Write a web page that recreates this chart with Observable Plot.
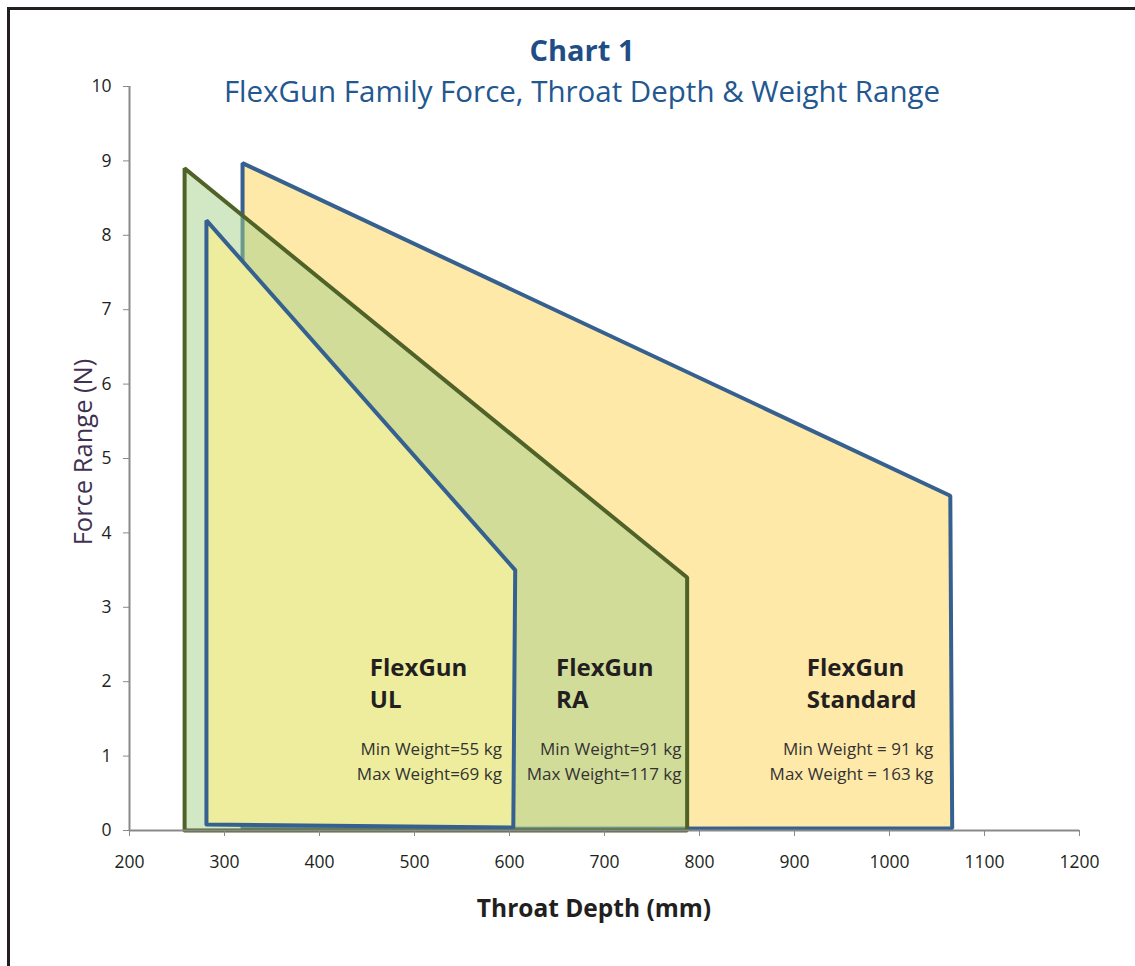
<!DOCTYPE html>
<html>
<head>
<meta charset="utf-8">
<script src="https://cdn.jsdelivr.net/npm/d3@7"></script>
<script src="https://cdn.jsdelivr.net/npm/@observablehq/plot@0.6"></script>
<style>
  html, body { margin: 0; padding: 0; background: #fff; overflow: hidden; width: 1135px; height: 966px; }
  #wrap { position: relative; width: 1135px; height: 966px; font-family: "Open Sans", sans-serif; }
  #frame { position: absolute; left: 7px; top: 7px; width: 1300px; height: 1100px; border: 3px solid #231f20; box-sizing: border-box; }
  #chart { position: absolute; left: 0; top: 0; }
  .ttl { position: absolute; left: 0; width: 1164px; text-align: center; color: #1f4e86; white-space: nowrap; line-height: 1; }
  #t1 { top: 35px; font-size: 29px; font-weight: bold; }
  #t2 { top: 76px; font-size: 29.5px; font-weight: normal; color: #23578f; }
  #ylab { position: absolute; left: 82px; top: 452px; transform: translate(-50%, -50%) rotate(-90deg); font-size: 25.5px; color: #3f3151; white-space: nowrap; }
  #xlab { position: absolute; left: 594px; top: 907px; transform: translate(-50%, -50%); font-size: 24.5px; font-weight: bold; color: #231f20; white-space: nowrap; }
</style>
</head>
<body>
<div id="wrap">
  <div id="frame"></div>
  <div id="chart"></div>
  <div class="ttl" id="t1">Chart 1</div>
  <div class="ttl" id="t2">FlexGun Family Force, Throat Depth &amp; Weight Range</div>
  <div id="ylab">Force Range (N)</div>
  <div id="xlab">Throat Depth (mm)</div>
</div>
<script>
// Polygon outlines: throat depth (mm) and force (N), closed
const standardDepth = [319, 319, 1064, 1066, 319];
const standardForce = [0.02, 8.97, 4.5, 0.03, 0.02];
const raDepth = [258, 258, 787, 787, 258];
const raForce = [0, 8.9, 3.4, 0, 0];
const ulDepth = [281, 281, 606, 604, 281];
const ulForce = [0.08, 8.2, 3.5, 0.04, 0.08];

// Labels
const familyNames = ["FlexGun\nUL", "FlexGun\nRA", "FlexGun\nStandard"];
const familyNameDepth = [453, 649, 913];
const familyNameForce = [2.37, 2.37, 2.37];
const weightTexts = ["Min Weight=55 kg\nMax Weight=69 kg", "Min Weight=91 kg\nMax Weight=117 kg", "Min Weight = 91 kg\nMax Weight = 163 kg"];
const weightDepth = [592, 781, 1046];
const weightForce = [1.24, 1.24, 1.24];

const xTicks = [200, 300, 400, 500, 600, 700, 800, 900, 1000, 1100, 1200];
const yTicks = [0, 1, 2, 3, 4, 5, 6, 7, 8, 9, 10];

const toPts = (xs, ys) => xs.map((x, i) => ({x, y: ys[i]}));
const standard = toPts(standardDepth, standardForce);
const ra = toPts(raDepth, raForce);
const ul = toPts(ulDepth, ulForce);
const names = familyNames.map((t, i) => ({t, x: familyNameDepth[i], y: familyNameForce[i]}));
const weights = weightTexts.map((t, i) => ({t, x: weightDepth[i], y: weightForce[i]}));

const axisGray = "#898989";
const chart = Plot.plot({
  width: 1135,
  height: 966,
  marginLeft: 129,
  marginRight: 56,
  marginTop: 86,
  marginBottom: 136,
  style: { fontFamily: "Open Sans", fontSize: "17.5px", background: "transparent", overflow: "visible" },
  x: { domain: [200, 1200] },
  y: { domain: [0, 10] },
  marks: [
    Plot.line(standard, {x: "x", y: "y", fill: "#fee9a9", stroke: "#35608f", strokeWidth: 4, strokeLinejoin: "miter"}),
    Plot.line(ra, {x: "x", y: "y", fill: "#a6d08a", fillOpacity: 0.5, stroke: "#4f6228", strokeWidth: 4, strokeLinejoin: "miter"}),
    Plot.line(ul, {x: "x", y: "y", fill: "#eded9d", stroke: "#35608f", strokeWidth: 4, strokeLinejoin: "miter"}),
    Plot.ruleY([0], {stroke: axisGray, strokeWidth: 2}),
    Plot.ruleX([200], {stroke: axisGray, strokeWidth: 2}),
    Plot.axisX({ticks: xTicks, tickSize: 6, tickPadding: 19, stroke: axisGray, fill: "#231f20", fontSize: 17.5, tickFormat: d => String(d), label: null}),
    Plot.axisY({ticks: yTicks, tickSize: 6, tickPadding: 12, stroke: axisGray, fill: "#231f20", fontSize: 17.5, tickFormat: d => String(d), label: null}),
    Plot.text(names, {x: "x", y: "y", text: "t", textAnchor: "start", lineAnchor: "top", lineHeight: 1.3, fontSize: 24, fontWeight: "bold", fill: "#231f20"}),
    Plot.text(weights, {x: "x", y: "y", text: "t", textAnchor: "end", lineAnchor: "top", lineHeight: 1.42, fontSize: 17, fill: "#333"})
  ]
});
document.getElementById("chart").appendChild(chart);
</script>
</body>
</html>
